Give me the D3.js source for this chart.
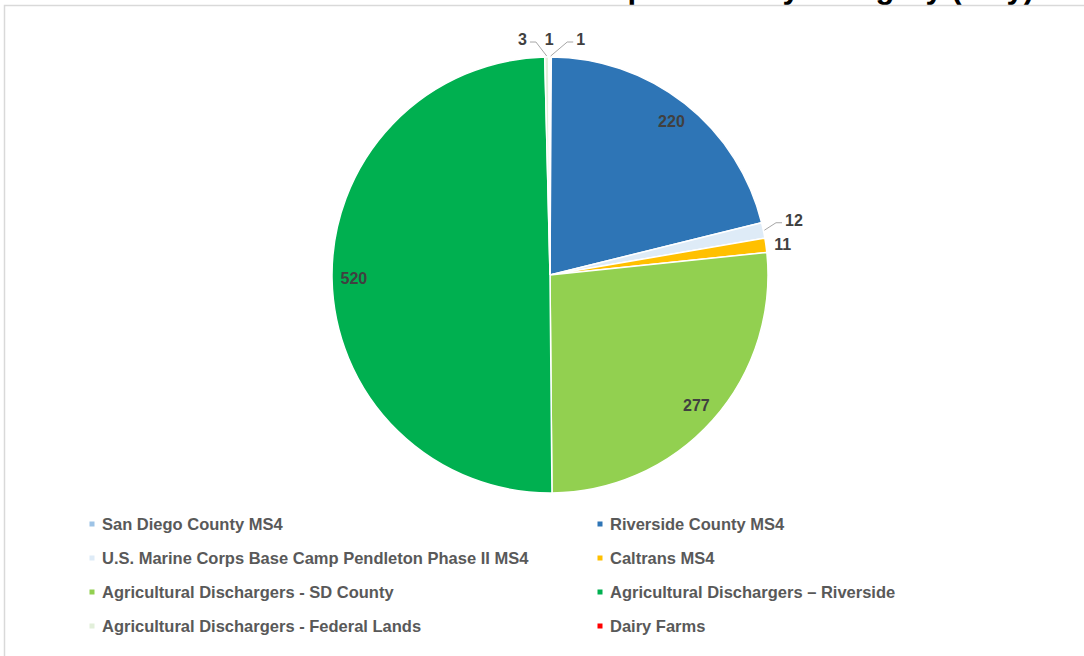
<!DOCTYPE html>
<html>
<head>
<meta charset="utf-8">
<script src="https://cdn.jsdelivr.net/npm/d3@7"></script>
<style>
  html, body { margin: 0; padding: 0; background: #fff; }
  svg { display: block; font-family: Arial, "Liberation Sans", sans-serif; }
</style>
</head>
<body>
<svg id="chart" width="1084" height="656"></svg>
<script>
// data
const categories = [
    "San Diego County MS4",
    "Riverside County MS4",
    "U.S. Marine Corps Base Camp Pendleton Phase II MS4",
    "Caltrans MS4",
    "Agricultural Dischargers - SD County",
    "Agricultural Dischargers \u2013 Riverside",
    "Agricultural Dischargers - Federal Lands",
    "Dairy Farms"
];
const values = [1, 220, 12, 11, 277, 520, 3, 1];
const colors = ["#9DC3E6", "#2E75B6", "#DEEBF7", "#FFC000", "#92D050", "#00B050", "#E2EFDA", "#FF0000"];

const titleText = "Number of Inspections by Category (July)";

// small slices get their label outside; a few are nudged apart like Excel does
const smallLimit = 20;
const nudge = {
    0: { dx: 30, dy: 0, leader: true },
    2: { dx: 13, dy: -7, leader: true },
    3: { dx: -1, dy: 1, leader: false },
    6: { dx: -24, dy: 0, leader: true },
    7: { dx: 0, dy: 0, leader: false }
};

const width = 1084, height = 656;
const cx = 550, cy = 275, radius = 218;

const svg = d3.select("#chart");
const data = categories.map((name, i) => ({ name, value: values[i], color: colors[i], i }));

// title (cut off by the top of the picture)
svg.append("text")
    .attr("x", 1034)
    .attr("y", -2)
    .attr("text-anchor", "end")
    .style("font-size", "31px")
    .style("font-weight", "bold")
    .style("fill", "#000")
    .text(titleText);

// chart frame
svg.append("path")
    .attr("d", `M4.5,${height} V5.5 H${width}`)
    .style("fill", "none")
    .style("stroke", "#d9d9d9")
    .style("stroke-width", 1.5);

const pie = d3.pie().sort(null).value(d => d.value);
const arcs = pie(data);
const arc = d3.arc().innerRadius(0).outerRadius(radius);
const labelArc = d3.arc().innerRadius(radius * 0.9).outerRadius(radius * 0.9);
const outerArc = d3.arc().innerRadius(radius + 18).outerRadius(radius + 18);
const edgeArc = d3.arc().innerRadius(radius + 1).outerRadius(radius + 1);

const g = svg.append("g").attr("transform", `translate(${cx},${cy})`);

g.selectAll("path.slice")
    .data(arcs)
    .join("path")
    .attr("class", "slice")
    .attr("d", arc)
    .style("fill", d => d.data.color)
    .style("stroke", "#fff")
    .style("stroke-width", 1.5);

function labelPos(d) {
    if (d.data.value >= smallLimit) return labelArc.centroid(d);
    const p = outerArc.centroid(d);
    const n = nudge[d.data.i] || { dx: 0, dy: 0 };
    return [p[0] + n.dx, p[1] + n.dy];
}

// leader lines for the nudged outside labels
g.selectAll("path.leader")
    .data(arcs.filter(d => d.data.value < smallLimit && nudge[d.data.i] && nudge[d.data.i].leader))
    .join("path")
    .attr("class", "leader")
    .attr("d", d => {
        const e = edgeArc.centroid(d);
        const p = labelPos(d);
        const half = String(d.data.value).length * 4.5 + 3;
        const side = p[0] < e[0] ? -1 : 1;
        const tx = p[0] - side * half;
        const ty = p[1] + 3;
        return `M${e[0]},${e[1]} L${tx - side * 6},${ty} L${tx},${ty}`;
    })
    .style("fill", "none")
    .style("stroke", "#a6a6a6")
    .style("stroke-width", 1);

g.selectAll("text.value")
    .data(arcs)
    .join("text")
    .attr("class", "value")
    .attr("transform", d => `translate(${labelPos(d)})`)
    .attr("text-anchor", "middle")
    .attr("dy", "0.36em")
    .style("font-size", "16px")
    .style("font-weight", "bold")
    .style("fill", "#404040")
    .text(d => d.data.value);

// legend, two columns, row by row
const legendCols = [92, 600];
const legendTop = 524, legendStep = 34;

const legend = svg.append("g")
    .selectAll("g")
    .data(data)
    .join("g")
    .attr("transform", d => `translate(${legendCols[d.i % 2]},${legendTop + Math.floor(d.i / 2) * legendStep})`);

legend.append("rect")
    .attr("x", -2.5)
    .attr("y", -2.5)
    .attr("width", 5)
    .attr("height", 5)
    .style("fill", d => d.color);

legend.append("text")
    .attr("x", 10)
    .attr("dy", "0.36em")
    .style("font-size", "16.5px")
    .style("font-weight", "bold")
    .style("fill", "#595959")
    .text(d => d.name);
</script>
</body>
</html>
